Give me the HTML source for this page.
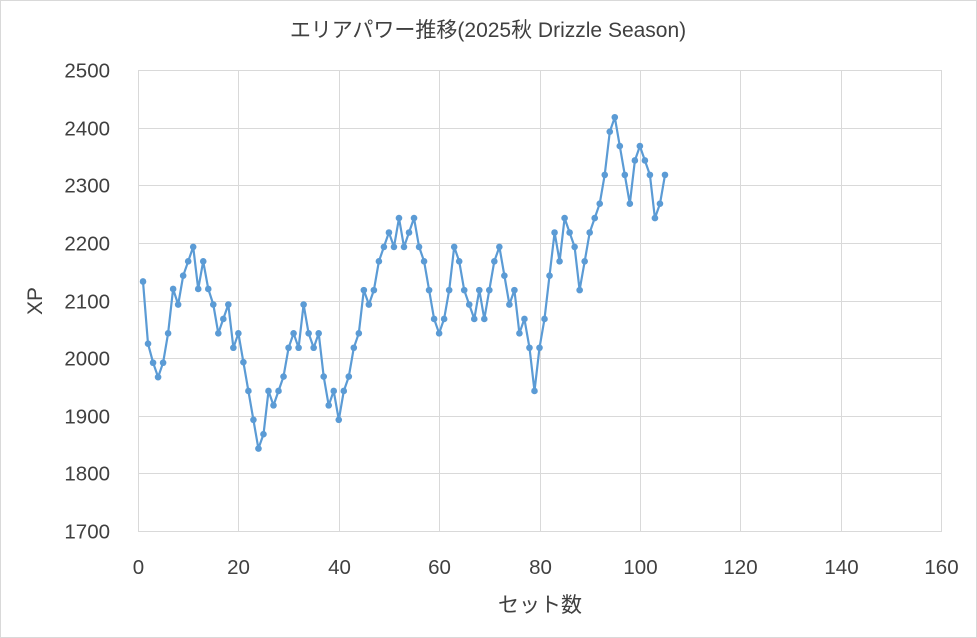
<!DOCTYPE html>
<html><head><meta charset="utf-8"><style>
body{margin:0;background:#fff}
svg{display:block}
text{font-family:"Liberation Sans","Noto Sans CJK JP",sans-serif;fill:#404040}
</style></head><body>
<svg id="s" width="977" height="638" xmlns="http://www.w3.org/2000/svg">
<rect x="0.5" y="0.5" width="976" height="637" fill="#fff" stroke="#d9d9d9"/>
<text x="488" y="37" font-size="21" text-anchor="middle">エリアパワー推移(2025秋 Drizzle Season)</text>
<g id="grid" stroke="#d9d9d9" stroke-width="1"></g>
<g id="lab" font-size="20.5"></g>
<text x="540" y="612" font-size="21" text-anchor="middle">セット数</text>
<text transform="translate(42,301) rotate(-90)" font-size="21" text-anchor="middle">XP</text>
<polyline id="ln" fill="none" stroke="#5b9bd5" stroke-width="2.2" stroke-linejoin="round"/>
<g id="pts" fill="#5b9bd5"></g>
</svg>
<script>
var d=[2133,2025,1992,1967,1992,2043,2120,2093,2143,2168,2193,2120,2168,2120,2093,2043,2068,2093,2018,2043,1993,1943,1893,1843,1868,1943,1918,1943,1968,2018,2043,2018,2093,2043,2018,2043,1968,1918,1943,1893,1943,1968,2018,2043,2118,2093,2118,2168,2193,2218,2193,2243,2193,2218,2243,2193,2168,2118,2068,2043,2068,2118,2193,2168,2118,2093,2068,2118,2068,2118,2168,2193,2143,2093,2118,2043,2068,2018,1943,2018,2068,2143,2218,2168,2243,2218,2193,2118,2168,2218,2243,2268,2318,2393,2418,2368,2318,2268,2343,2368,2343,2318,2243,2268,2318];
var X=function(v){return 138+v*803/160},Y=function(v){return 70+(2500-v)*461/800};
var ns="http://www.w3.org/2000/svg",g=document.getElementById('grid'),l=document.getElementById('lab');
function el(p,t,a,tx){var e=document.createElementNS(ns,t);for(var k in a)e.setAttribute(k,a[k]);if(tx!=null)e.textContent=tx;p.appendChild(e);}
for(var v=1700;v<=2500;v+=100){var y=Math.round(Y(v))+.5;el(g,'line',{x1:138,x2:941,y1:y,y2:y});el(l,'text',{x:110,y:y+7,'text-anchor':'end'},v);}
for(var i=0;i<=160;i+=20){var x=Math.round(X(i))+.5;el(g,'line',{x1:x,x2:x,y1:70,y2:532});el(l,'text',{x:x,y:574,'text-anchor':'middle'},i);}
var p=[],pt=document.getElementById('pts');
d.forEach(function(v,i){var x=X(i+1),y=Y(v);p.push(x.toFixed(1)+','+y.toFixed(1));el(pt,'circle',{cx:x,cy:y,r:3.3});});
document.getElementById('ln').setAttribute('points',p.join(' '));
</script>
</body></html>
